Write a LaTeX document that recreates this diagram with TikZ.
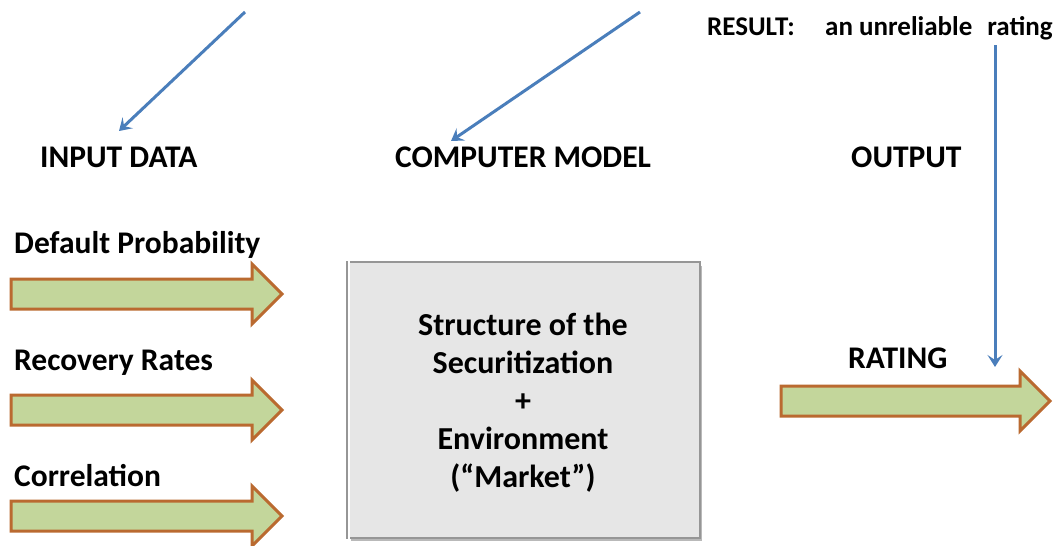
\documentclass[tikz,border=0pt]{standalone}
\usepackage{fontspec}
\setmainfont{Carlito}
\usetikzlibrary{arrows.meta}
\definecolor{arrowfill}{RGB}{195,214,155}
\definecolor{arrowedge}{RGB}{186,106,48}
\definecolor{blueline}{RGB}{74,126,187}
\definecolor{boxfill}{RGB}{230,230,230}
\definecolor{boxedge}{RGB}{150,150,150}
\newcommand\blockarr[3]{%
  \draw[barrow] (#1,#3-15) -- (#2-30,#3-15) -- (#2-30,#3-30) -- (#2,#3)
    -- (#2-30,#3+30) -- (#2-30,#3+15) -- (#1,#3+15) -- cycle;}
\begin{document}
\begin{tikzpicture}[x=1pt,y=-1pt,
  lbl/.style={font=\fontsize{31.5}{36}\selectfont\bfseries, inner sep=0pt, anchor=base west},
  small/.style={font=\fontsize{27}{30}\selectfont\bfseries, inner sep=0pt, anchor=base west},
  barrow/.style={fill=arrowfill, draw=arrowedge, line width=3pt, line join=miter},
  bluearrow/.style={draw=blueline, line width=3pt, -{Stealth[length=12pt,width=15pt,inset=5pt]}},
  modelbox/.style={fill=boxfill, draw=boxedge, line width=2pt, minimum width=353pt, minimum height=276pt,
    align=center, inner sep=0pt}]
\useasboundingbox (0,0) rectangle (1060,546);
\fill[white] (0,0) rectangle (1060,546);

% labels
\node[small] (result) at (707,35) {RESULT:};
\node[small] (unrel) at (825,35) {an unreliable\hspace{9pt} rating};
\node[lbl] (input) at (40,167) {INPUT DATA};
\node[lbl] (computer) at (395,167) {COMPUTER MODEL};
\node[lbl] (output) at (851,167) {OUTPUT};
\node[lbl] (defprob) at (14,253) {Default Probability};
\node[lbl] (recov) at (14,370) {Recovery Rates};
\node[lbl] (corr) at (14,486) {Correlation};
\node[lbl] (rating) at (848,368) {RATING};

% model box
\fill[gray!55] (351,266) rectangle (702,541);
\node[modelbox] (model) at (523,400) {};
\draw[white, line width=2pt] ([shift={(3pt,-3pt)}]model.south west) -- ([shift={(3pt,3pt)}]model.north west) -- ([shift={(-3pt,3pt)}]model.north east);
\node[align=center, font=\fontsize{32}{38}\selectfont\bfseries, inner sep=0pt] (modeltext) at (523,403)
  {Structure of the\\Securitization\\+\\Environment\\(“Market”)};

% block arrows
\blockarr{11}{282}{294}
\blockarr{11}{282}{410}
\blockarr{11}{282}{516}
\blockarr{781}{1050}{401}

% blue arrows
\coordinate (s1) at (245,12);
\coordinate (e1) at (119,131);
\coordinate (s2) at (640,12);
\coordinate (e2) at (451,141);
\coordinate (s3) at (995,45);
\coordinate (e3) at (995,367);
\draw[bluearrow] (s1) -- (e1);
\draw[bluearrow] (s2) -- (e2);
\draw[bluearrow] (s3) -- (e3);
\end{tikzpicture}
\end{document}
